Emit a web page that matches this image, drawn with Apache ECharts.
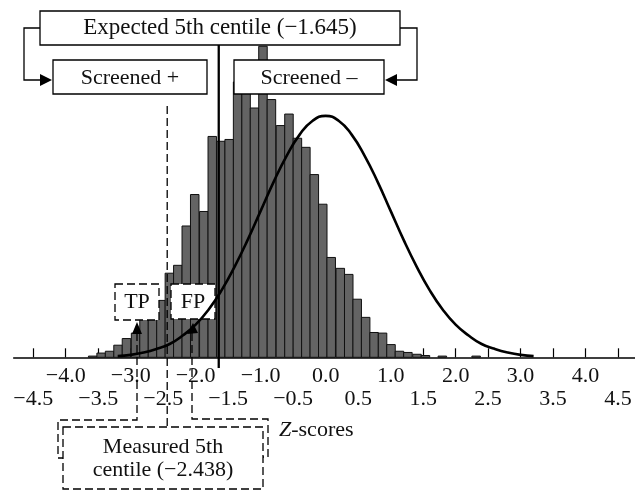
<!DOCTYPE html>
<html>
<head>
<meta charset="utf-8">
<script src="https://cdn.jsdelivr.net/npm/echarts@6/dist/echarts.min.js"></script>
<style>
  html, body { margin: 0; padding: 0; background: #fff; }
  #chart { width: 635px; height: 492px; }
</style>
</head>
<body>
<div id="chart"></div>
<script>
// measured z-scores: left edge of each bin and its density
const binWidth = 0.131;
const binLeft = [-3.65, -3.52, -3.39, -3.26, -3.13, -2.99, -2.86, -2.73, -2.60, -2.47,
  -2.34, -2.21, -2.08, -1.94, -1.81, -1.68, -1.55, -1.42, -1.29, -1.16,
  -1.03, -0.90, -0.76, -0.63, -0.50, -0.37, -0.24, -0.11, 0.02, 0.16,
  0.29, 0.42, 0.55, 0.68, 0.81, 0.94, 1.07, 1.20, 1.34, 1.47,
  1.60, 1.73, 1.86, 1.99, 2.12, 2.25];
const binDensity = [0.002, 0.007, 0.010, 0.020, 0.031, 0.040, 0.063, 0.074, 0.094, 0.139,
  0.152, 0.217, 0.269, 0.241, 0.365, 0.357, 0.360, 0.455, 0.443, 0.412,
  0.514, 0.426, 0.383, 0.402, 0.362, 0.347, 0.302, 0.253, 0.165, 0.147,
  0.137, 0.096, 0.066, 0.041, 0.040, 0.021, 0.010, 0.008, 0.005, 0.003,
  0, 0.002, 0, 0, 0, 0.002];

// expected distribution curve
const curveZ = [-3.2, -3.0, -2.8, -2.6, -2.4, -2.2, -2.0, -1.8, -1.6, -1.4, -1.2, -1.0, -0.8, -0.6, -0.4, -0.2,
  0, 0.2, 0.4, 0.6, 0.8, 1.0, 1.2, 1.4, 1.6, 1.8, 2.0, 2.2, 2.4, 2.6, 2.8, 3.0, 3.2];
const curveY = [0.002, 0.004, 0.008, 0.014, 0.022, 0.036, 0.054, 0.079, 0.111, 0.150, 0.194, 0.242, 0.290, 0.333, 0.368, 0.391,
  0.399, 0.391, 0.368, 0.333, 0.290, 0.242, 0.194, 0.150, 0.111, 0.079, 0.054, 0.036, 0.022, 0.014, 0.008, 0.004, 0.002];

const tickValues = [-4.5, -4, -3.5, -3, -2.5, -2, -1.5, -1, -0.5, 0, 0.5, 1, 1.5, 2, 2.5, 3, 3.5, 4, 4.5];
const upperLabels = [-4, -3, -2, -1, 0, 1, 2, 3, 4];
const lowerLabels = [-4.5, -3.5, -2.5, -1.5, -0.5, 0.5, 1.5, 2.5, 3.5, 4.5];

const expectedCentile = -1.645;
const measuredCentile = -2.438;

const serif = '"Liberation Serif", "DejaVu Serif", serif';

function fmt(v) {
  return (v < 0 ? '\u2212' : '') + Math.abs(v).toFixed(1);
}

function renderBin(params, api) {
  const x0 = api.value(0);
  const h = api.value(1);
  if (!h) return;
  const top = api.coord([x0, h]);
  const base = api.coord([x0 + binWidth, 0]);
  return {
    type: 'rect',
    shape: { x: top[0], y: top[1], width: base[0] - top[0], height: base[1] - top[1] },
    style: { fill: '#646464', stroke: '#111', lineWidth: 1 }
  };
}

const chart = echarts.init(document.getElementById('chart'));

const axisBase = {
  type: 'value',
  min: -4.8,
  max: 4.76,
  position: 'bottom',
  splitLine: { show: false }
};

chart.setOption({
  animation: false,
  grid: { left: 13.7, right: 0, top: 24.5, bottom: 134.7 },
  xAxis: [
    Object.assign({}, axisBase, {
      axisLine: { onZero: false, lineStyle: { color: '#000', width: 1.5 } },
      axisTick: { inside: true, length: 9, customValues: tickValues, lineStyle: { color: '#000', width: 1.2 } },
      axisLabel: { customValues: upperLabels, formatter: fmt, margin: 8, color: '#111', fontSize: 22, fontFamily: serif }
    }),
    Object.assign({}, axisBase, {
      axisLine: { show: false },
      axisTick: { show: false },
      axisLabel: { customValues: lowerLabels, formatter: fmt, margin: 31, color: '#111', fontSize: 22, fontFamily: serif }
    })
  ],
  yAxis: { type: 'value', min: 0, max: 0.55, show: false },
  series: [
    {
      type: 'custom',
      z: 1,
      renderItem: renderBin,
      encode: { x: 0, y: 1 },
      data: binLeft.map((x, i) => [x, binDensity[i]])
    },
    {
      type: 'line',
      z: 10,
      smooth: true,
      showSymbol: false,
      lineStyle: { color: '#000', width: 2.6 },
      data: curveZ.map((z, i) => [z, curveY[i]])
    }
  ]
});

// annotations
const xExp = chart.convertToPixel({ xAxisIndex: 0 }, expectedCentile);
const xMeas = chart.convertToPixel({ xAxisIndex: 0 }, measuredCentile);
const dash = [8, 4];

function box(x, y, w, h, dashed) {
  return {
    type: 'rect', z: 5,
    shape: { x: x, y: y, width: w, height: h },
    style: { fill: '#fff', stroke: '#000', lineWidth: 1.3, lineDash: dashed ? dash : null }
  };
}
function label(x, y, text, size) {
  return {
    type: 'text', z: 6,
    style: { x: x, y: y, text: text, align: 'center', verticalAlign: 'middle', fill: '#111', fontSize: size || 22, fontFamily: serif }
  };
}
function path(points, dashed, width) {
  return {
    type: 'polyline', z: 4,
    shape: { points: points },
    style: { stroke: '#000', fill: null, lineWidth: width || 1.3, lineDash: dashed ? dash : null }
  };
}
function arrow(points) {
  return { type: 'polygon', z: 6, shape: { points: points }, style: { fill: '#000' } };
}

chart.setOption({
  graphic: [
    // expected centile line and its boxes
    path([[xExp, 45], [xExp, 368]], false, 2.3),
    path([[40, 28], [24, 28], [24, 80], [42, 80]]),
    arrow([[52, 80], [40, 74], [40, 86]]),
    path([[400, 28], [417, 28], [417, 80], [396, 80]]),
    arrow([[385, 80], [397, 74], [397, 86]]),
    box(40, 11, 360, 34),
    label(220, 28, 'Expected 5th centile (\u22121.645)', 23),
    box(53, 60, 154, 34),
    label(130, 78, 'Screened +'),
    box(234, 60, 150, 34),
    label(309, 78, 'Screened \u2013'),

    // measured centile line
    path([[xMeas, 106], [xMeas, 427]], true),

    // TP / FP markers and their connectors
    path([[137, 333], [137, 420], [58, 420], [58, 458], [63, 458]], true),
    arrow([[137, 322], [132, 334], [142, 334]]),
    path([[192, 333], [192, 419], [268, 419], [268, 457], [263, 457]], true),
    arrow([[193, 323], [187, 334], [198, 333]]),
    box(115, 284, 44, 36, true),
    label(137, 302, 'TP'),
    box(171, 284, 44, 35, true),
    label(193, 302, 'FP'),

    box(63, 427, 200, 62, true),
    label(163, 447, 'Measured 5th'),
    label(163, 470, 'centile (\u22122.438)'),

    {
      type: 'text', z: 6,
      style: {
        x: 279, y: 430, text: '{i|Z}-scores', verticalAlign: 'middle', fill: '#111', fontSize: 22, fontFamily: serif,
        rich: { i: { fontStyle: 'italic', fontSize: 22, fontFamily: serif, fill: '#111' } }
      }
    }
  ]
});
</script>
</body>
</html>
